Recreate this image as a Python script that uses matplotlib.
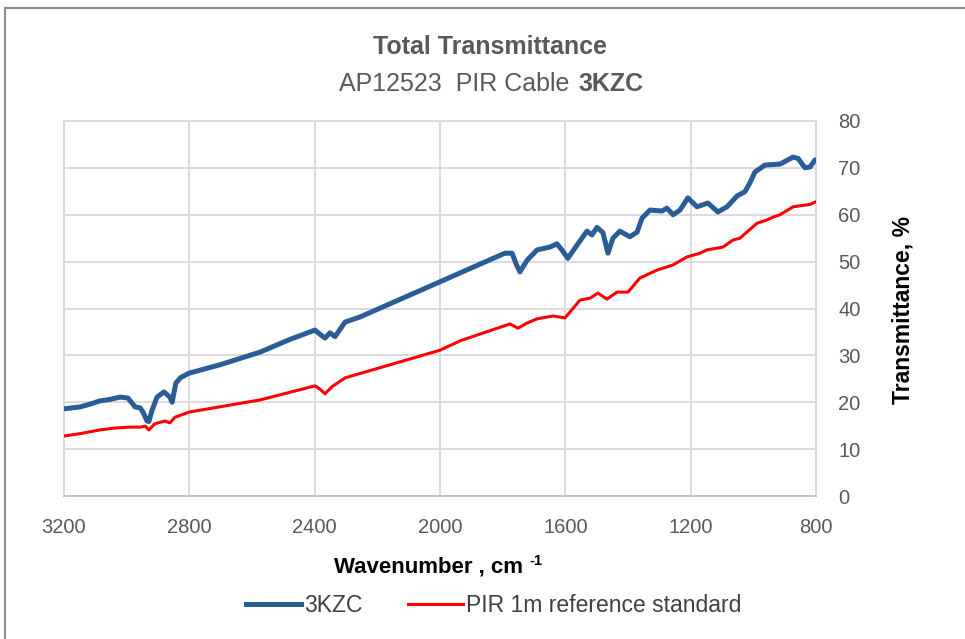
import matplotlib
matplotlib.use("Agg")
import matplotlib.pyplot as plt
from matplotlib.lines import Line2D

# ---- data ----
blue_wn = [3200, 3149, 3117, 3085, 3053, 3021, 2996, 2973, 2957, 2948, 2935, 2929, 2919,
           2903, 2881, 2862, 2855, 2843, 2827, 2801, 2702, 2574, 2479, 2399, 2383, 2367,
           2351, 2335, 2303, 2255, 2000, 1793, 1770, 1757, 1745, 1722, 1690, 1649, 1627,
           1611, 1592, 1563, 1531, 1515, 1499, 1480, 1464, 1448, 1426, 1394, 1371, 1355,
           1330, 1291, 1276, 1256, 1234, 1209, 1180, 1145, 1113, 1084, 1052, 1027, 1011,
           995, 963, 915, 873, 857, 835, 819, 803]
blue_val = [18.6, 19.0, 19.6, 20.3, 20.6, 21.1, 20.9, 19.0, 18.8, 17.9, 16.0, 15.9, 18.3,
            21.1, 22.2, 21.1, 20.0, 24.1, 25.3, 26.2, 28.0, 30.7, 33.4, 35.4, 34.5, 33.7,
            34.8, 34.0, 37.1, 38.2, 45.7, 51.8, 51.8, 49.5, 47.8, 50.3, 52.5, 53.1, 53.8,
            52.5, 50.7, 53.5, 56.5, 55.7, 57.3, 56.2, 51.8, 55.0, 56.5, 55.3, 56.3, 59.3,
            61.0, 60.8, 61.4, 60.0, 61.0, 63.6, 61.7, 62.5, 60.6, 61.7, 64.0, 64.9, 66.8,
            69.1, 70.6, 70.8, 72.3, 72.0, 70.0, 70.2, 71.7]

red_wn = [3200, 3149, 3085, 3037, 2989, 2957, 2941, 2929, 2910, 2878, 2862, 2846, 2801,
          2574, 2399, 2383, 2367, 2345, 2303, 2000, 1936, 1777, 1751, 1722, 1690, 1639,
          1601, 1553, 1521, 1496, 1467, 1435, 1400, 1362, 1307, 1256, 1212, 1170, 1148,
          1097, 1065, 1043, 988, 956, 937, 915, 873, 841, 819, 803]
red_val = [12.8, 13.3, 14.1, 14.5, 14.7, 14.7, 14.9, 14.1, 15.4, 16.0, 15.6, 16.8, 17.9,
           20.5, 23.5, 22.8, 21.8, 23.3, 25.2, 31.1, 33.1, 36.7, 35.8, 36.9, 37.8, 38.4,
           38.0, 41.8, 42.2, 43.3, 42.0, 43.5, 43.5, 46.5, 48.2, 49.3, 51.0, 51.8, 52.5,
           53.1, 54.6, 55.0, 58.2, 58.9, 59.5, 60.0, 61.7, 62.0, 62.2, 62.7]

x_ticks = [3200, 2800, 2400, 2000, 1600, 1200, 800]
y_ticks = [0, 10, 20, 30, 40, 50, 60, 70, 80]

series_names = ["3KZC", "PIR 1m reference standard"]
title = "Total Transmittance"
subtitle_plain = "AP12523  PIR Cable "
subtitle_bold = "3KZC"

# ---- style ----
FONT = ["Liberation Sans", "DejaVu Sans"]
plt.rcParams["font.family"] = FONT
BLUE = "#2A5D96"
RED = "#FF0000"
GRAY_TXT = "#595959"
GRID = "#D9D9D9"

fig = plt.figure(figsize=(9.65, 6.39), dpi=100)
W, H = 965, 639
ax = fig.add_axes([64 / W, 1 - 496 / H, (816 - 64) / W, (496 - 121) / H])

ax.plot(blue_wn, blue_val, color=BLUE, lw=3.6, solid_joinstyle="round",
        solid_capstyle="round", zorder=3)
ax.plot(red_wn, red_val, color=RED, lw=2.2, solid_joinstyle="round", zorder=3)

ax.set_xlim(3200, 800)
ax.set_ylim(0, 80)
ax.set_xticks(x_ticks)
ax.set_yticks(y_ticks)
ax.set_xticklabels([str(t) for t in x_ticks], fontsize=14.5, color=GRAY_TXT)
ax.set_yticklabels([str(t) for t in y_ticks], fontsize=14.5, color=GRAY_TXT)
ax.yaxis.tick_right()
ax.tick_params(axis="both", length=0)
ax.tick_params(axis="x", pad=16)
ax.tick_params(axis="y", pad=16)
ax.grid(True, color=GRID, lw=1.3)
ax.set_axisbelow(True)
for s in ["top", "left", "right"]:
    ax.spines[s].set_color(GRID)
    ax.spines[s].set_linewidth(1.3)
ax.spines["bottom"].set_color("#BFBFBF")
ax.spines["bottom"].set_linewidth(1.3)

# titles
fig.text(490 / W, 1 - 47 / H, title, ha="center", va="center",
         fontsize=18, fontweight="bold", color=GRAY_TXT)
fig.text(576 / W, 1 - 84 / H, subtitle_plain, ha="right", va="center",
         fontsize=18, color=GRAY_TXT)
fig.text(578 / W, 1 - 84 / H, subtitle_bold, ha="left", va="center",
         fontsize=18, fontweight="bold", color=GRAY_TXT)

# x label with superscript
fig.text(523 / W, 1 - 567 / H, "Wavenumber , cm", ha="right", va="center",
         fontsize=16, fontweight="bold", color="black")
fig.text(529 / W, 1 - 561 / H, "-1", ha="left", va="center",
         fontsize=10.5, fontweight="bold", color="black")

# y label
fig.text(903 / W, 1 - 310 / H, "Transmittance, %", ha="center", va="center", rotation=90,
         fontsize=16.5, fontweight="bold", color="black")

# legend
handles = [Line2D([], [], color=BLUE, lw=3.6), Line2D([], [], color=RED, lw=2.2)]
leg = fig.legend(handles, series_names, loc="center", bbox_to_anchor=(494 / W, 1 - 606 / H),
                 ncol=2, frameon=False, handlelength=2.4, handletextpad=0.12,
                 columnspacing=2.0, prop={"size": 16.5})
for t in leg.get_texts():
    t.set_color("#404040")

# outer frame (top and left edges visible)
fig.add_artist(Line2D([5 / W, 1], [1 - 8 / H, 1 - 8 / H], transform=fig.transFigure,
                      color="#8C8C8C", lw=1.5))
fig.add_artist(Line2D([5 / W, 5 / W], [1 - 8 / H, 0], transform=fig.transFigure,
                      color="#8C8C8C", lw=1.5))

fig.savefig("out.png", dpi=100)
